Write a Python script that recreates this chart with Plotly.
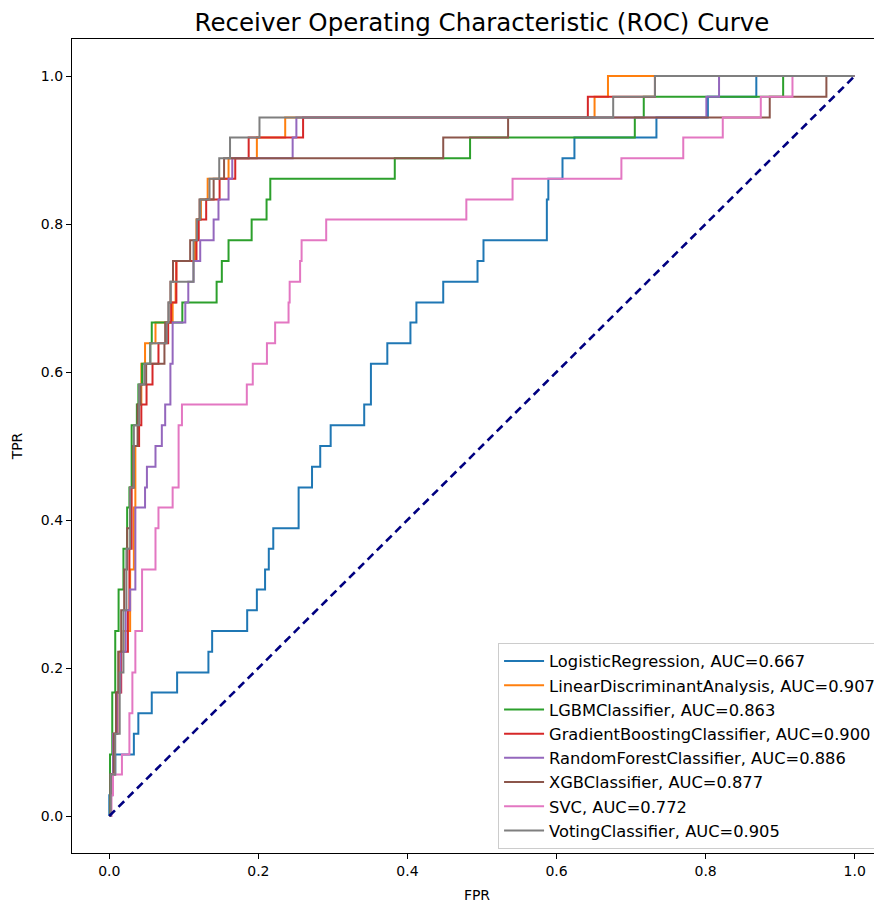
import plotly.graph_objects as go

# ---- data (ROC step points: FPR where TPR rises, new TPR) ----
lr_fpr = [0, 0, 0.004, 0.008, 0.033, 0.039, 0.057, 0.091, 0.133, 0.138, 0.185, 0.198, 0.209, 0.214, 0.220, 0.254,
          0.272, 0.283, 0.297, 0.342, 0.351, 0.373, 0.404, 0.412, 0.448, 0.494, 0.502, 0.587, 0.589, 0.608, 0.624,
          0.734, 0.803, 0.868, 1.0]
lr_tpr = [0, 0.028, 0.056, 0.083, 0.111, 0.139, 0.167, 0.194, 0.222, 0.250, 0.278, 0.306, 0.333, 0.361, 0.389, 0.444,
          0.472, 0.500, 0.528, 0.556, 0.611, 0.639, 0.667, 0.694, 0.722, 0.750, 0.778, 0.833, 0.861, 0.889, 0.917,
          0.944, 0.972, 1.0, 1.0]

lda_fpr = [0, 0.001, 0.006, 0.010, 0.014, 0.019, 0.028, 0.033, 0.035, 0.039, 0.043, 0.048, 0.062, 0.085, 0.089,
           0.090, 0.115, 0.117, 0.123, 0.132, 0.160, 0.198, 0.236, 0.651, 0.669, 1.0]
lda_tpr = [0, 0.056, 0.111, 0.167, 0.222, 0.250, 0.333, 0.417, 0.500, 0.556, 0.611, 0.639, 0.667, 0.694, 0.722,
           0.750, 0.778, 0.806, 0.833, 0.861, 0.889, 0.917, 0.944, 0.972, 1.0, 1.0]

lgbm_fpr = [0, 0.001, 0.004, 0.008, 0.0125, 0.019, 0.024, 0.027, 0.030, 0.037, 0.039, 0.044, 0.055, 0.057, 0.098,
            0.144, 0.151, 0.160, 0.191, 0.211, 0.216, 0.383, 0.484, 0.705, 0.717, 0.904, 1.0]
lgbm_tpr = [0, 0.083, 0.167, 0.250, 0.306, 0.361, 0.417, 0.444, 0.528, 0.556, 0.583, 0.611, 0.639, 0.667, 0.694,
            0.722, 0.750, 0.778, 0.806, 0.833, 0.861, 0.889, 0.917, 0.944, 0.972, 1.0, 1.0]

gb_fpr = [0, 0.002, 0.007, 0.011, 0.016, 0.025, 0.027, 0.030, 0.033, 0.040, 0.043, 0.050, 0.058, 0.066, 0.079,
          0.083, 0.090, 0.117, 0.120, 0.130, 0.148, 0.169, 0.187, 0.260, 0.642, 0.732, 1.0]
gb_tpr = [0, 0.056, 0.111, 0.167, 0.222, 0.278, 0.361, 0.444, 0.500, 0.528, 0.556, 0.583, 0.611, 0.639, 0.667,
          0.694, 0.750, 0.778, 0.806, 0.833, 0.861, 0.889, 0.917, 0.944, 0.972, 1.0, 1.0]

rf_fpr = [0, 0.002, 0.005, 0.010, 0.015, 0.022, 0.028, 0.035, 0.048, 0.0505, 0.062, 0.0705, 0.075, 0.082, 0.085,
          0.102, 0.106, 0.113, 0.122, 0.140, 0.1465, 0.160, 0.165, 0.246, 0.251, 0.801, 0.818, 1.0]
rf_tpr = [0, 0.056, 0.111, 0.167, 0.222, 0.278, 0.306, 0.417, 0.444, 0.472, 0.500, 0.528, 0.556, 0.611, 0.667,
          0.694, 0.722, 0.750, 0.778, 0.806, 0.833, 0.861, 0.889, 0.917, 0.944, 0.972, 1.0, 1.0]

xgb_fpr = [0, 0.002, 0.006, 0.009, 0.012, 0.016, 0.020, 0.024, 0.028, 0.032, 0.038, 0.042, 0.0495, 0.074, 0.075,
           0.0795, 0.082, 0.0855, 0.1085, 0.1175, 0.121, 0.140, 0.154, 0.448, 0.535, 0.886, 0.962, 1.0]
xgb_tpr = [0, 0.056, 0.111, 0.167, 0.222, 0.278, 0.333, 0.389, 0.444, 0.500, 0.556, 0.583, 0.611, 0.639, 0.667,
           0.694, 0.722, 0.750, 0.778, 0.806, 0.833, 0.861, 0.889, 0.917, 0.944, 0.972, 1.0, 1.0]

svc_fpr = [0, 0.003, 0.005, 0.017, 0.027, 0.031, 0.035, 0.044, 0.062, 0.066, 0.085, 0.093, 0.0975, 0.1845, 0.1925,
           0.2115, 0.2225, 0.2405, 0.242, 0.256, 0.258, 0.291, 0.479, 0.541, 0.687, 0.770, 0.823, 0.874, 0.9165, 1.0]
svc_tpr = [0, 0.028, 0.056, 0.083, 0.139, 0.194, 0.250, 0.333, 0.389, 0.417, 0.444, 0.528, 0.556, 0.583, 0.611,
           0.639, 0.667, 0.694, 0.722, 0.750, 0.778, 0.806, 0.833, 0.861, 0.889, 0.917, 0.944, 0.972, 1.0, 1.0]

vote_fpr = [0, 0.002, 0.008, 0.014, 0.019, 0.023, 0.028, 0.033, 0.040, 0.047, 0.055, 0.077, 0.0795, 0.0825, 0.113,
            0.1175, 0.122, 0.1345, 0.1475, 0.162, 0.2015, 0.676, 0.732, 1.0]
vote_tpr = [0, 0.056, 0.111, 0.194, 0.278, 0.361, 0.444, 0.528, 0.583, 0.611, 0.639, 0.667, 0.694, 0.722, 0.778,
            0.806, 0.833, 0.861, 0.889, 0.917, 0.944, 0.972, 1.0, 1.0]

model_names = ["LogisticRegression", "LinearDiscriminantAnalysis", "LGBMClassifier", "GradientBoostingClassifier",
               "RandomForestClassifier", "XGBClassifier", "SVC", "VotingClassifier"]
auc_values = [0.667, 0.907, 0.863, 0.900, 0.886, 0.877, 0.772, 0.905]
colors = ["#1f77b4", "#ff7f0e", "#2ca02c", "#d62728", "#9467bd", "#8c564b", "#e377c2", "#7f7f7f"]
fprs = [lr_fpr, lda_fpr, lgbm_fpr, gb_fpr, rf_fpr, xgb_fpr, svc_fpr, vote_fpr]
tprs = [lr_tpr, lda_tpr, lgbm_tpr, gb_tpr, rf_tpr, xgb_tpr, svc_tpr, vote_tpr]

diag_x = [0, 1]
diag_y = [0, 1]
tick_vals = [0.0, 0.2, 0.4, 0.6, 0.8, 1.0]
tick_text = ["0.0", "0.2", "0.4", "0.6", "0.8", "1.0"]

FONT = "DejaVu Sans"

fig = go.Figure()
for i, name in enumerate(model_names):
    fig.add_trace(go.Scatter(
        x=fprs[i], y=tprs[i], mode="lines", line_shape="hv",
        line=dict(color=colors[i], width=2),
        name=f"{name}, AUC={auc_values[i]:.3f}",
        legendgroup=f"g{i}",
    ))

fig.add_trace(go.Scatter(
    x=diag_x, y=diag_y, mode="lines", showlegend=False,
    line=dict(color="navy", width=2.6, dash="8px,5px"),
))

axis_common = dict(
    showgrid=False, zeroline=False, showline=True, linecolor="black", linewidth=1.2,
    ticks="outside", ticklen=5, tickwidth=1.2, tickcolor="black",
    tickvals=tick_vals, ticktext=tick_text,
    tickfont=dict(family=FONT, size=14, color="black"),
    automargin=False,
)

# page body adds an 8px offset, so the figure is drawn 8px smaller and shifted
fig.update_layout(
    width=874, height=895,
    margin=dict(l=64, r=0, t=31, b=50),
    paper_bgcolor="white", plot_bgcolor="white",
    font=dict(family=FONT, color="black"),
    title=dict(text="Receiver Operating Characteristic (ROC) Curve",
               font=dict(family=FONT, size=24.5, color="black"),
               x=474 / 874, xanchor="center", xref="container",
               y=1 - 14 / 895, yanchor="middle", yref="container"),
    xaxis=dict(range=[-0.05, 1.0366], mirror=True,
               title=dict(text="FPR", font=dict(family=FONT, size=14, color="black"), standoff=12),
               **axis_common),
    yaxis=dict(range=[-0.05, 1.05], mirror=False,
               title=dict(text="TPR", font=dict(family=FONT, size=14, color="black"), standoff=14),
               **axis_common),
    legend=dict(x=0.526, xanchor="left", y=0.258, yanchor="top",
                bgcolor="rgba(255,255,255,0.85)", bordercolor="#cccccc", borderwidth=1,
                font=dict(family=FONT, size=16.3, color="black"),
                tracegroupgap=0, itemwidth=40),
    showlegend=True,
)

fig.write_html("out.html")
